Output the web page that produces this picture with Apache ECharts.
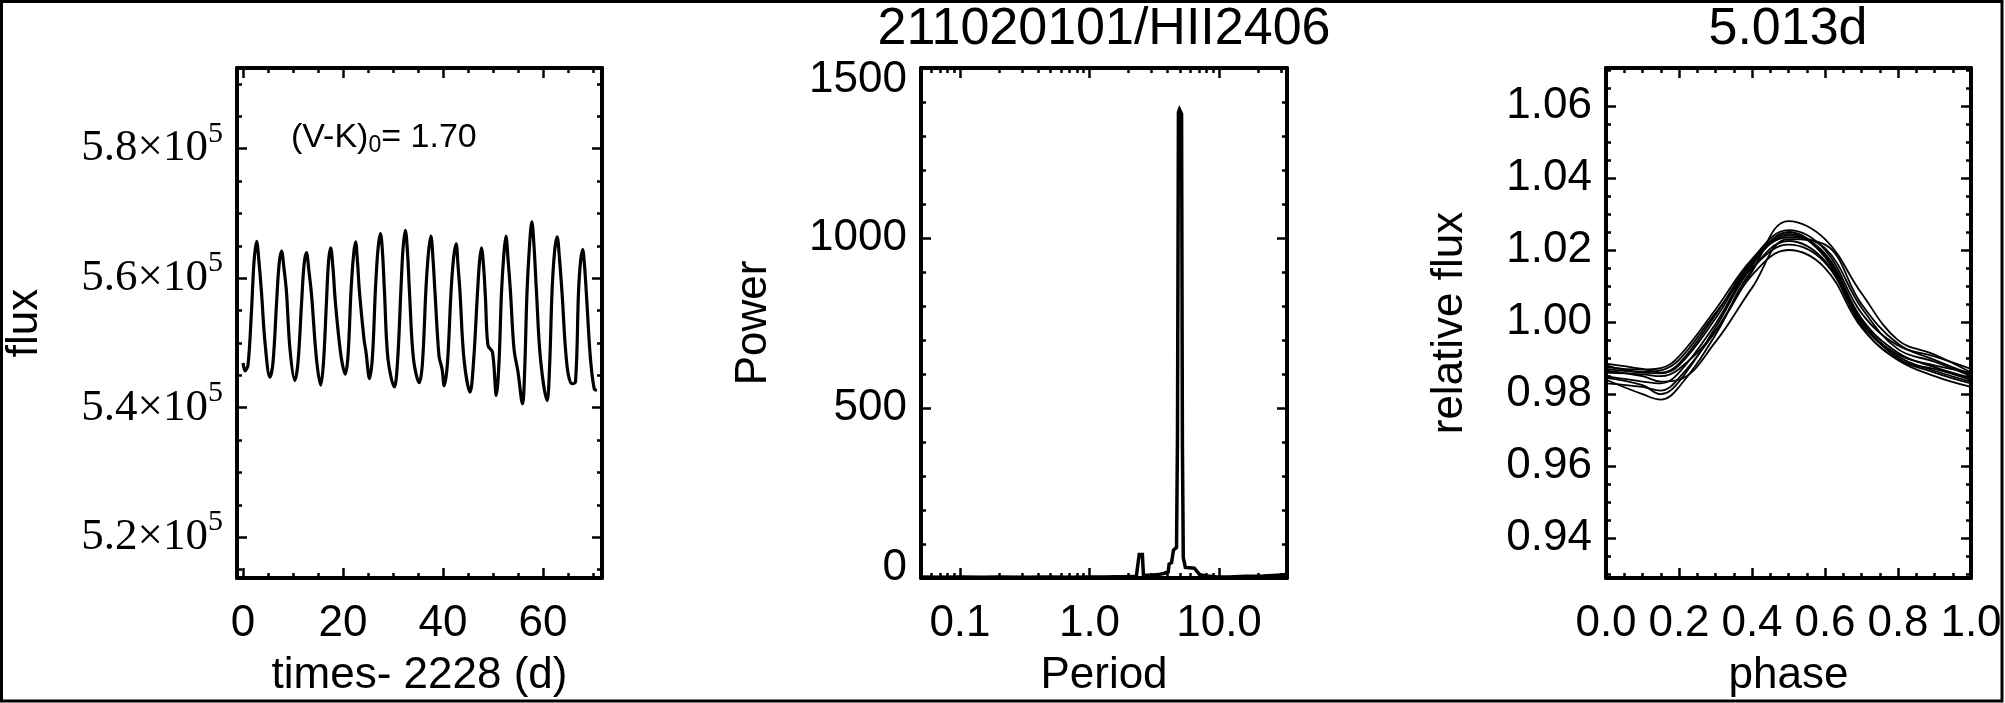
<!DOCTYPE html>
<html><head><meta charset="utf-8">
<script src="https://cdn.jsdelivr.net/npm/echarts@6/dist/echarts.min.js"></script>
<style>html,body{margin:0;padding:0;background:#fff}#c{width:2005px;height:703px}</style>
</head><body><div id="c"></div>
<script>
// ---------------- data ----------------
// light curve: time - 2228 (d) and flux
const lcTime = [0.0,0.4,1.0,1.7,2.2,2.72,3.2,3.7,4.4,5.38,
  6.0,6.7,7.2,7.70,8.2,8.7,9.4,10.36,
  11.0,11.7,12.2,12.68,13.2,13.7,14.7,15.54,
  16.1,16.7,17.1,17.53,18.0,18.4,19.0,19.7,20.45,
  21.0,21.6,22.1,22.51,22.9,23.3,24.2,24.6,25.30,
  25.9,26.5,27.0,27.49,27.9,28.3,29.0,30.28,
  30.9,31.6,32.0,32.47,32.9,33.3,34.1,35.26,
  35.9,36.6,37.1,37.58,38.0,38.4,39.2,39.8,40.24,
  40.9,41.6,42.1,42.63,43.0,43.4,44.2,45.42,
  46.1,46.9,47.3,47.68,48.1,48.5,49.0,49.9,50.66,
  51.2,51.7,52.2,52.59,53.0,53.5,54.2,55.0,55.91,
  56.3,56.8,57.3,57.77,58.2,58.7,59.5,60.82,
  61.3,61.8,62.3,62.82,63.3,63.8,64.8,65.8,66.5,
  67.1,67.5,67.93,68.3,68.66,69.5,70.25,70.78];
const lcFlux = [546900,545700,546600,555000,562500,565700,562500,557800,550100,544700,
  547000,556000,562000,564200,561500,557800,549000,544200,
  547000,556000,562000,563950,561000,557500,547500,543500,
  547000,556500,562500,564700,561500,557000,552000,547500,545200,
  548000,558000,563500,565600,562500,557800,550600,548600,544500,
  548000,558500,564500,566900,564000,557800,547500,543200,
  547000,558500,564500,567400,564000,557800,547500,543850,
  547000,558500,564000,566500,563000,557800,548000,546000,543400,
  547000,557800,563000,565300,562000,557800,547500,542400,
  547000,557800,562500,564700,562000,556800,549600,548560,541900,
  547000,557800,564000,566500,563000,557800,549080,545500,540600,
  545000,557800,565000,568700,565000,557800,547500,541100,
  546000,557800,564000,566400,563000,557800,546500,543700,544000,
  557800,562500,564400,562000,557800,547500,542900,542700];

// periodogram: period (d) and power
const pgPeriod = [0.05,0.07,0.1,0.15,0.2,0.3,0.5,0.7,1.0,1.3,1.6,2.0,2.3,2.38,2.42,2.5,2.56,2.61,2.7,3.0,3.4,3.8,4.05,4.12,4.3,4.45,4.6,4.7,4.78,4.86,4.95,5.05,5.14,5.22,5.3,5.5,5.9,6.45,7.1,8.0,9.5,12,16,22,28,33.5];
const pgPower  = [3,2,3,2,3,2,3,2,3,3,4,4,5,6,69,70,69,8,6,8,10,14,18,41,45,82,84,90,420,1370,1378,1376,1365,380,60,31,30,29,10,6,4,3,5,6,8,10];

// phase-folded light curve, one array per cycle
const phase = [0, 0.1, 0.15, 0.2, 0.3, 0.4, 0.5, 0.6, 0.7, 0.8, 0.9, 1.0];
const foldA = [0.9875,0.9868,0.9872,0.9905,1.0035,1.0175,1.0255,1.0200,1.0025,0.9935,0.9905,0.9870];
const foldB = [0.9860,0.9855,0.9850,0.9870,0.9975,1.0140,1.0280,1.0230,1.0080,0.9950,0.9910,0.9860];
const foldC = [0.9840,0.9800,0.9785,0.9820,0.9965,1.0145,1.0225,1.0170,1.0000,0.9900,0.9860,0.9830];
const foldD = [0.9850,0.9835,0.9830,0.9860,0.9995,1.0160,1.0240,1.0190,1.0010,0.9915,0.9875,0.9845];
const foldE = [0.9830,0.9820,0.9810,0.9845,0.9975,1.0130,1.0200,1.0150,0.9985,0.9895,0.9850,0.9820];
const foldF = [0.9865,0.9850,0.9835,0.9840,0.9945,1.0095,1.0230,1.0215,1.0050,0.9940,0.9895,0.9855];
const foldG = [0.9885,0.9870,0.9860,0.9885,1.0020,1.0170,1.0245,1.0180,0.9990,0.9895,0.9870,0.9840];
const foldH = [0.9870,0.9860,0.9858,0.9880,1.0010,1.0165,1.0235,1.0205,1.0040,0.9925,0.9890,0.9850];
const foldI = [0.9845,0.9825,0.9800,0.9835,0.9985,1.0155,1.0250,1.0185,1.0005,0.9905,0.9865,0.9835];
const foldJ = [0.9880,0.9862,0.9866,0.9895,1.0025,1.0150,1.0215,1.0165,0.9995,0.9910,0.9880,0.9860];

// ticks
const lcXTicks = [0, 20, 40, 60];
const lcXMinor = [5,10,15,25,30,35,45,50,55,65,70];
const lcYTicks = [520000, 540000, 560000, 580000];
const lcYMinor = [515000,525000,530000,535000,545000,550000,555000,565000,570000,575000,585000,590000];
const pgXTicks = [0.1, 1, 10];
const pgXMinor = [0.06,0.07,0.08,0.09,0.2,0.3,0.4,0.5,0.6,0.7,0.8,0.9,2,3,4,5,6,7,8,9,20,30];
const pgYTicks = [0, 500, 1000, 1500];
const pgYMinor = [100,200,300,400,600,700,800,900,1100,1200,1300,1400];
const phXTicks = [0, 0.2, 0.4, 0.6, 0.8, 1.0];
const phXMinor = [0.05,0.1,0.15,0.25,0.3,0.35,0.45,0.5,0.55,0.65,0.7,0.75,0.85,0.9,0.95];
const phYTicks = [0.94, 0.96, 0.98, 1.00, 1.02, 1.04, 1.06];
const phYMinor = [0.93,0.935,0.945,0.95,0.955,0.965,0.97,0.975,0.985,0.99,0.995,1.005,1.01,1.015,1.025,1.03,1.035,1.045,1.05,1.055,1.065,1.07];

// ---------------- chart ----------------
const SANS = 'Liberation Sans';
const SERIF = 'Liberation Serif';
const FS = 44;
const xAxis = [], yAxis = [];

function addAxes(kind, grid, type, min, max, major, minor, opt) {
  const arr = kind === 'x' ? xAxis : yAxis;
  const positions = kind === 'x' ? ['bottom', 'top'] : ['left', 'right'];
  const mainIndex = arr.length;
  positions.forEach((pos, pi) => {
    [major, minor].forEach((vals, vi) => {
      const isMain = pi === 0 && vi === 0;
      const ax = {
        type: type, gridIndex: grid, position: pos, min: min, max: max,
        splitLine: { show: false },
        axisLine: { show: vi === 0, onZero: false, lineStyle: { color: '#000', width: 4 } },
        axisTick: { show: true, inside: true, customValues: vals, length: vi === 0 ? 10 : 5,
                    lineStyle: { color: '#000', width: 2.5 } },
        axisLabel: isMain ? Object.assign({ show: true, customValues: major, color: '#000',
                    fontFamily: SANS, fontSize: FS, margin: opt.margin }, opt.label || {}) : { show: false }
      };
      if (type === 'log') ax.logBase = 10;
      if (isMain && opt.name) {
        ax.name = opt.name;
        ax.nameLocation = 'middle';
        ax.nameGap = opt.nameGap;
        ax.nameTextStyle = { color: '#000', fontFamily: SANS, fontSize: FS };
      }
      arr.push(ax);
    });
  });
  return mainIndex;
}

const grids = [
  { left: 237, top: 68, width: 365, height: 512 },
  { left: 921, top: 68, width: 366, height: 512 },
  { left: 1606, top: 68, width: 365, height: 512 }
];

const lcX = addAxes('x', 0, 'value', -1.2, 71.8, lcXTicks, lcXMinor,
  { margin: 24, name: 'times- 2228 (d)', nameGap: 76 });
const lcY = addAxes('y', 0, 'value', 513700, 592460, lcYTicks, lcYMinor,
  { margin: 14, name: 'flux', nameGap: 190,
    label: { formatter: v => '{m|' + (v / 1e5).toFixed(1) + '×10}{s|5}',
      rich: { m: { fontFamily: SERIF, fontSize: 45, color: '#000' },
              s: { fontFamily: SERIF, fontSize: 30, color: '#000', padding: [0, 0, 30, 0] } } } });

const pgX = addAxes('x', 1, 'log', 0.05, 33.5, pgXTicks, pgXMinor,
  { margin: 24, name: 'Period', nameGap: 76, label: { formatter: v => Number(v).toFixed(1) } });
const pgY = addAxes('y', 1, 'value', 0, 1500, pgYTicks, pgYMinor,
  { margin: 14, name: 'Power', nameGap: 145,
    label: { formatter: v => v === 1500 ? '{lo|1500}' : (v === 0 ? '{hi|0}' : '{n|' + v + '}'),
      rich: { lo: { fontFamily: SANS, fontSize: FS, color: '#000', padding: [24, 0, 0, 0] },
              hi: { fontFamily: SANS, fontSize: FS, color: '#000', padding: [0, 0, 20, 0] },
              n: { fontFamily: SANS, fontSize: FS, color: '#000' } } } });

const phX = addAxes('x', 2, 'value', 0, 1, phXTicks, phXMinor,
  { margin: 24, name: 'phase', nameGap: 76, label: { formatter: v => Number(v).toFixed(1) } });
const phY = addAxes('y', 2, 'value', 0.929, 1.0705, phYTicks, phYMinor,
  { margin: 14, name: 'relative flux', nameGap: 134, label: { formatter: v => Number(v).toFixed(2) } });

const folds = [foldA, foldB, foldC, foldD, foldE, foldF, foldG, foldH, foldI, foldJ];

const series = [
  { type: 'line', xAxisIndex: lcX, yAxisIndex: lcY, showSymbol: false, smooth: 0.35,
    lineStyle: { color: '#000', width: 3.2 }, data: lcTime.map((t, i) => [t, lcFlux[i]]) },
  { type: 'line', xAxisIndex: pgX, yAxisIndex: pgY, showSymbol: false,
    lineStyle: { color: '#000', width: 3.5, join: 'miter' }, data: pgPeriod.map((p, i) => [p, pgPower[i]]) }
].concat(folds.map(f => ({
  type: 'line', xAxisIndex: phX, yAxisIndex: phY, showSymbol: false, smooth: 0.4,
  lineStyle: { color: '#000', width: 1.8 }, data: phase.map((p, i) => [p, f[i]])
})));

const chart = echarts.init(document.getElementById('c'), null, { renderer: 'canvas' });
chart.setOption({
  animation: false,
  backgroundColor: '#fff',
  grid: grids,
  xAxis: xAxis,
  yAxis: yAxis,
  series: series,
  graphic: [
    { type: 'rect', z: 100, shape: { x: 1.5, y: 1.5, width: 2000.5, height: 699.5 },
      style: { fill: 'none', stroke: '#000', lineWidth: 3 } },
    { type: 'text', x: 1104, y: 4, style: { text: '211020101/HII2406', align: 'center', verticalAlign: 'top',
      fontSize: 52, fontFamily: SANS, fill: '#000' } },
    { type: 'text', x: 1788, y: 4, style: { text: '5.013d', align: 'center', verticalAlign: 'top',
      fontSize: 52, fontFamily: SANS, fill: '#000' } },
    { type: 'text', x: 291, y: 119, style: { text: '(V-K){sub|0}= 1.70', fontSize: 34, fontFamily: SANS, fill: '#000',
      rich: { sub: { fontSize: 23, fontFamily: SANS, fill: '#000', padding: [15, 0, 0, 0] } } } }
  ]
});
</script></body></html>
